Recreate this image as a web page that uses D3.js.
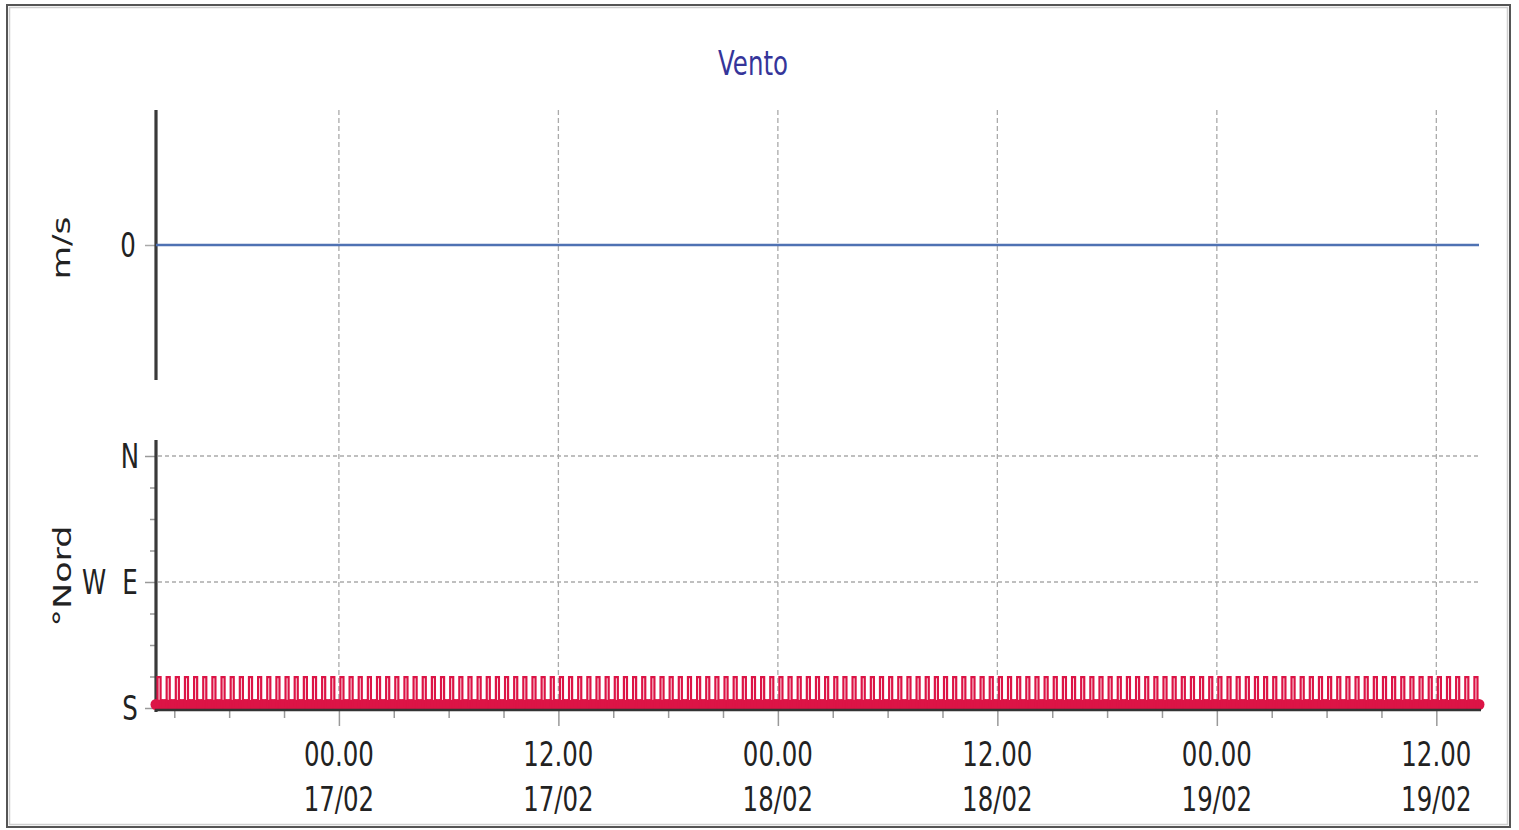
<!DOCTYPE html>
<html>
<head>
<meta charset="utf-8">
<title>Vento</title>
<script src="https://cdnjs.cloudflare.com/ajax/libs/d3/7.8.5/d3.min.js"></script>
<style>
  body { margin: 0; background: #fff; }
  svg text { font-family: "DejaVu Sans", sans-serif; }
</style>
</head>
<body>
<svg id="chart" width="1519" height="830"></svg>
<script>
// readings every 10 minutes, from 16/02 14:00 to 19/02 14:20
var startTime = new Date(2015, 1, 16, 14, 0);
var stepMinutes = 10;

// wind speed (m/s)
var speedValues = [
  0,0,0,0,0,0,0,0,0,0,0,0,0,0,0,0,0,0,
  0,0,0,0,0,0,0,0,0,0,0,0,0,0,0,0,0,0,
  0,0,0,0,0,0,0,0,0,0,0,0,0,0,0,0,0,0,
  0,0,0,0,0,0,0,0,0,0,0,0,0,0,0,0,0,0,
  0,0,0,0,0,0,0,0,0,0,0,0,0,0,0,0,0,0,
  0,0,0,0,0,0,0,0,0,0,0,0,0,0,0,0,0,0,
  0,0,0,0,0,0,0,0,0,0,0,0,0,0,0,0,0,0,
  0,0,0,0,0,0,0,0,0,0,0,0,0,0,0,0,0,0,
  0,0,0,0,0,0,0,0,0,0,0,0,0,0,0,0,0,0,
  0,0,0,0,0,0,0,0,0,0,0,0,0,0,0,0,0,0,
  0,0,0,0,0,0,0,0,0,0,0,0,0,0,0,0,0,0,
  0,0,0,0,0,0,0,0,0,0,0,0,0,0,0,0,0,0,
  0,0,0,0,0,0,0,0,0,0,0,0,0,0,0,0,0,0,
  0,0,0,0,0,0,0,0,0,0,0,0,0,0,0,0,0,0,
  0,0,0,0,0,0,0,0,0,0,0,0,0,0,0,0,0,0,
  0,0,0,0,0,0,0,0,0,0,0,0,0,0,0,0,0,0,
  0,0,0,0,0,0,0,0,0,0,0,0,0,0,0,0,0,0,
  0,0,0,0,0,0,0,0,0,0,0,0,0,0,0,0,0,0,
  0,0,0,0,0,0,0,0,0,0,0,0,0,0,0,0,0,0,
  0,0,0,0,0,0,0,0,0,0,0,0,0,0,0,0,0,0,
  0,0,0,0,0,0,0,0,0,0,0,0,0,0,0,0,0,0,
  0,0,0,0,0,0,0,0,0,0,0,0,0,0,0,0,0,0,
  0,0,0,0,0,0,0,0,0,0,0,0,0,0,0,0,0,0,
  0,0,0,0,0,0,0,0,0,0,0,0,0,0,0,0,0,0,
  0,0,0
];

// wind direction (degrees from north)
var dirValues = [
  180,158,180,180,158,180,180,158,180,180,158,180,180,158,180,180,158,180,
  180,158,180,180,158,180,180,158,180,180,158,180,180,158,180,180,158,180,
  180,158,180,180,158,180,180,158,180,180,158,180,180,158,180,180,158,180,
  180,158,180,180,158,180,180,158,180,180,158,180,180,158,180,180,158,180,
  180,158,180,180,158,180,180,158,180,180,158,180,180,158,180,180,158,180,
  180,158,180,180,158,180,180,158,180,180,158,180,180,158,180,180,158,180,
  180,158,180,180,158,180,180,158,180,180,158,180,180,158,180,180,158,180,
  180,158,180,180,158,180,180,158,180,180,158,180,180,158,180,180,158,180,
  180,158,180,180,158,180,180,158,180,180,158,180,180,158,180,180,158,180,
  180,158,180,180,158,180,180,158,180,180,158,180,180,158,180,180,158,180,
  180,158,180,180,158,180,180,158,180,180,158,180,180,158,180,180,158,180,
  180,158,180,180,158,180,180,158,180,180,158,180,180,158,180,180,158,180,
  180,158,180,180,158,180,180,158,180,180,158,180,180,158,180,180,158,180,
  180,158,180,180,158,180,180,158,180,180,158,180,180,158,180,180,158,180,
  180,158,180,180,158,180,180,158,180,180,158,180,180,158,180,180,158,180,
  180,158,180,180,158,180,180,158,180,180,158,180,180,158,180,180,158,180,
  180,158,180,180,158,180,180,158,180,180,158,180,180,158,180,180,158,180,
  180,158,180,180,158,180,180,158,180,180,158,180,180,158,180,180,158,180,
  180,158,180,180,158,180,180,158,180,180,158,180,180,158,180,180,158,180,
  180,158,180,180,158,180,180,158,180,180,158,180,180,158,180,180,158,180,
  180,158,180,180,158,180,180,158,180,180,158,180,180,158,180,180,158,180,
  180,158,180,180,158,180,180,158,180,180,158,180,180,158,180,180,158,180,
  180,158,180,180,158,180,180,158,180,180,158,180,180,158,180,180,158,180,
  180,158,180,180,158,180,180,158,180,180,158,180,180,158,180,180,158,180,
  180,158,180
];

var speedTicks = [0];
var dirTicks = [0, 22.5, 45, 67.5, 90, 112.5, 135, 157.5, 180];
var dirLabels = { 0: "N", 90: "E", 180: "S" };

var svg = d3.select("#chart");
var SX = 0.72; // narrow face like the original Tahoma rendering

function label(g, x, y, s, color, anchor) {
  return g.append("text")
    .attr("transform", "translate(" + x + "," + y + ") scale(" + SX + ",1)")
    .attr("text-anchor", anchor || "middle")
    .attr("font-size", 34)
    .attr("fill", color || "#222")
    .text(s);
}

var times = dirValues.map(function(d, i) { return d3.timeMinute.offset(startTime, i * stepMinutes); });
var speed = speedValues.map(function(v, i) { return { t: times[i], v: v }; });
var dir = dirValues.map(function(v, i) { return { t: times[i], v: v }; });

var x = d3.scaleTime().domain([times[0], times[times.length - 1]]).range([156, 1479]);
var ySpeed = d3.scaleLinear().domain([-1, 1]).range([380, 110]);
var yDir = d3.scaleLinear().domain([180, 0]).range([708, 456]);

// frame
svg.append("rect").attr("x", 7).attr("y", 5).attr("width", 1503).attr("height", 822)
  .attr("fill", "none").attr("stroke", "#555").attr("stroke-width", 2);
svg.append("rect").attr("x", 9.5).attr("y", 7.5).attr("width", 1498).attr("height", 817)
  .attr("fill", "none").attr("stroke", "#cfcfcf").attr("stroke-width", 1.5);

label(svg, 753, 75, "Vento", "#35359a");

// vertical grid at 00/12
var majorTimes = d3.timeHour.every(12).range(times[0], times[times.length - 1]);
var minorTimes = d3.timeHour.every(3).range(times[0], times[times.length - 1]);

svg.append("g").selectAll("line").data(majorTimes).join("line")
  .attr("x1", d => x(d)).attr("x2", d => x(d))
  .attr("y1", 110).attr("y2", 710)
  .attr("stroke", "#aaa").attr("stroke-width", 1.3).attr("stroke-dasharray", "5,3");

// horizontal grid in direction panel
svg.append("g").selectAll("line").data([0, 90]).join("line")
  .attr("x1", 158).attr("x2", 1478)
  .attr("y1", d => yDir(d)).attr("y2", d => yDir(d))
  .attr("stroke", "#aaa").attr("stroke-width", 1.3).attr("stroke-dasharray", "4,3");

// speed panel axis
var speedAxis = d3.axisLeft(ySpeed).tickValues(speedTicks).tickSize(11).tickFormat("");
var ga = svg.append("g").attr("transform", "translate(156,0)").call(speedAxis);
ga.select(".domain").remove();
ga.selectAll(".tick line").attr("stroke", "#aaa").attr("stroke-width", 1.5);
svg.append("line").attr("x1", 156).attr("x2", 156).attr("y1", 110).attr("y2", 380)
  .attr("stroke", "#3a3a3a").attr("stroke-width", 3.2);
speedTicks.forEach(function(t) { label(svg, 128, ySpeed(t) + 12, String(t)); });

svg.append("text")
  .attr("transform", "translate(70,248) rotate(-90) scale(1.38,1)")
  .attr("text-anchor", "middle").attr("font-size", 25).attr("fill", "#222")
  .text("m/s");

svg.append("path").datum(speed)
  .attr("fill", "none").attr("stroke", "#4f72b3").attr("stroke-width", 2.5)
  .attr("d", d3.line().x(d => x(d.t)).y(d => ySpeed(d.v)));

// direction panel axis
var dirAxis = d3.axisLeft(yDir).tickValues(dirTicks).tickFormat("")
  .tickSize(6);
var gd = svg.append("g").attr("transform", "translate(156,0)").call(dirAxis);
gd.select(".domain").remove();
gd.selectAll(".tick line")
  .attr("stroke", "#999").attr("stroke-width", 1.5)
  .attr("x2", d => dirLabels[d] !== undefined ? -11 : -6);
svg.append("line").attr("x1", 156).attr("x2", 156).attr("y1", 440).attr("y2", 712)
  .attr("stroke", "#3a3a3a").attr("stroke-width", 3.2);
Object.keys(dirLabels).forEach(function(k) { label(svg, 130, yDir(+k) + 12, dirLabels[k]); });
label(svg, 94, yDir(90) + 12, "W");

svg.append("text")
  .attr("transform", "translate(71,576) rotate(-90) scale(1.4,1)")
  .attr("text-anchor", "middle").attr("font-size", 25).attr("fill", "#222")
  .text("°Nord");

// direction series
svg.append("g").selectAll("circle").data(dir.filter(d => d.v === 180)).join("circle")
  .attr("cx", d => x(d.t)).attr("cy", d => yDir(d.v) - 3.5).attr("r", 5.5)
  .attr("fill", "#dc1446");
svg.append("path").datum(dir)
  .attr("fill", "none").attr("stroke", "#dc1446").attr("stroke-width", 2.2)
  .attr("d", d3.line().curve(d3.curveStep).x(d => x(d.t)).y(d => yDir(d.v)));

// time axis
var xAxis = d3.axisBottom(x).tickValues(minorTimes).tickFormat("").tickSize(7);
var gx = svg.append("g").attr("transform", "translate(0,711)").call(xAxis);
gx.select(".domain").remove();
gx.selectAll(".tick line").attr("stroke", "#999").attr("stroke-width", 1.5)
  .attr("y2", d => d.getHours() % 12 === 0 ? 15 : 7);
svg.append("line").attr("x1", 155).attr("x2", 1481).attr("y1", 710).attr("y2", 710)
  .attr("stroke", "#333").attr("stroke-width", 2.5);

var fmtHour = d3.timeFormat("%H.%M"), fmtDay = d3.timeFormat("%d/%m");
majorTimes.forEach(function(t) {
  label(svg, x(t), 766, fmtHour(t));
  label(svg, x(t), 811, fmtDay(t));
});
</script>
</body>
</html>
